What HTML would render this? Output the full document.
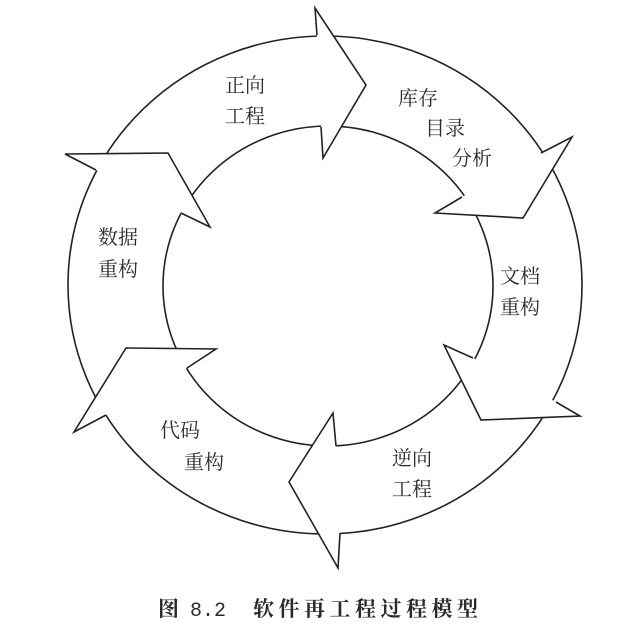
<!DOCTYPE html>
<html><head><meta charset="utf-8"><style>
html,body{margin:0;padding:0;background:#fff;}
svg{display:block;}
text{font-family:"Liberation Serif","Noto Serif CJK SC",serif;font-size:20px;fill:#2a2a2a;}
</style></head><body>
<svg width="641" height="635" viewBox="0 0 641 635" xmlns="http://www.w3.org/2000/svg">
<g fill="none" stroke="#222" stroke-width="1.6">
<ellipse cx="325" cy="285" rx="257" ry="249"/>
<ellipse cx="328" cy="286" rx="165" ry="160"/>
</g>
<g fill="#fff" stroke="#222" stroke-width="1.6" stroke-linejoin="miter">
<path d="M317,35 L315,8 L366,85 L323,158 L321,127 Z" stroke="none"/>
<path d="M317,35 L315,8 L366,85 L323,158 L321,127" fill="none"/>
<path d="M541,153 L572,137 L523,218 L435,213 L462,197 Z" stroke="none"/>
<path d="M541,153 L572,137 L523,218 L435,213 L462,197" fill="none"/>
<path d="M556,402 L580,416 L481,420 L444,345 L473,358 Z" stroke="none"/>
<path d="M556,402 L580,416 L481,420 L444,345 L473,358" fill="none"/>
<path d="M340,533 L338,568 L289,482 L333,413 L336,446 Z" stroke="none"/>
<path d="M340,533 L338,568 L289,482 L333,413 L336,446" fill="none"/>
<path d="M187,368 L216,349 L126,348 L74,432 L106,415 Z" stroke="none"/>
<path d="M187,368 L216,349 L126,348 L74,432 L106,415" fill="none"/>
<path d="M96,170 L65,154 L168,153 L210,227 L181,213 Z" stroke="none"/>
<path d="M96,170 L65,154 L168,153 L210,227 L181,213" fill="none"/>
</g>
<text x="225" y="92">正向</text>
<text x="225" y="123">工程</text>
<text x="398" y="105">库存</text>
<text x="425" y="135">目录</text>
<text x="452" y="165">分析</text>
<text x="500" y="283">文档</text>
<text x="500" y="314">重构</text>
<text x="392" y="465">逆向</text>
<text x="392" y="496">工程</text>
<text x="160" y="437">代码</text>
<text x="184" y="469">重构</text>
<text x="98" y="244">数据</text>
<text x="98" y="276">重构</text>
<text x="158" y="616" style="font-size:21px;font-weight:bold;">图</text>
<text x="190" y="616" style="font-family:'Liberation Mono',monospace;font-size:20px;">8.2</text>
<text x="253" y="616" style="font-size:21px;letter-spacing:4.5px;font-weight:bold;">软件再工程过程模型</text>
</svg>
</body></html>
